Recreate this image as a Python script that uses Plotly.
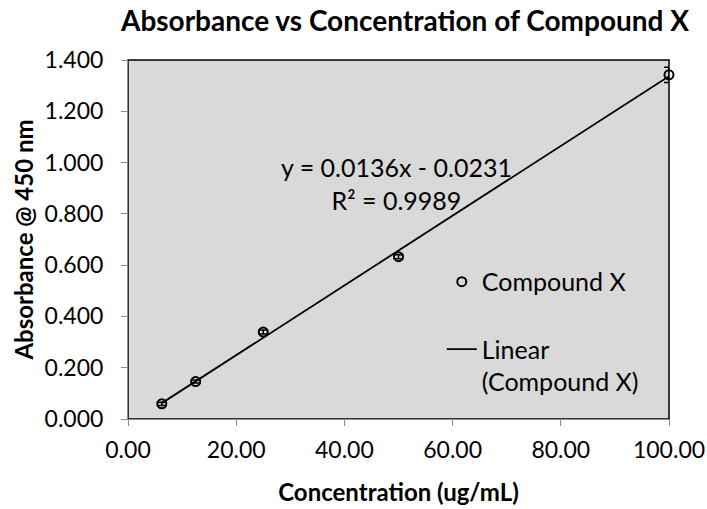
import plotly.graph_objects as go

# Data
concentration = [6.25, 12.5, 25.0, 50.0, 100.0]
absorbance = [0.059, 0.146, 0.339, 0.633, 1.342]
abs_error = [0.006, 0.006, 0.008, 0.008, 0.030]

# Trendline (as reported on the chart)
slope = 0.0136
intercept = -0.0231
trend_x = [6.25, 100.0]
trend_y = [slope * x + intercept for x in trend_x]

x_ticks = [0, 20, 40, 60, 80, 100]
y_ticks = [0.0, 0.2, 0.4, 0.6, 0.8, 1.0, 1.2, 1.4]

FONT = "Lato"

fig = go.Figure()

fig.add_trace(go.Scatter(
    x=concentration, y=absorbance, mode="markers", name="Compound X",
    legendgroup="a", cliponaxis=False,
    marker=dict(symbol="circle-open", size=9, color="black", line=dict(width=2, color="black")),
    error_y=dict(type="data", array=abs_error, visible=True, color="black", thickness=1.5, width=5),
))

fig.add_trace(go.Scatter(
    x=trend_x, y=trend_y, mode="lines", name="Linear<br>(Compound X)",
    legendgroup="b", cliponaxis=False,
    line=dict(color="black", width=1.8),
))

fig.add_shape(type="rect", xref="paper", yref="paper", x0=0, y0=0, x1=1, y1=1,
              line=dict(color="black", width=1.5), layer="below")

fig.add_annotation(
    x=0.497, y=0.655, xref="paper", yref="paper", yanchor="middle", xanchor="center",
    text="y = 0.0136x - 0.0231<br>R² = 0.9989",
    showarrow=False, align="center",
    font=dict(family=FONT, size=25, color="black"),
)

fig.update_layout(
    width=707, height=509,
    margin=dict(l=128, r=38, t=60, b=90, autoexpand=False),
    paper_bgcolor="white",
    plot_bgcolor="#D9D9D9",
    font=dict(family=FONT, size=23, color="black"),
    title=dict(text="<b>Absorbance vs Concentration of Compound X</b>",
               x=405 / 707, xref="container", xanchor="center",
               y=1 - 21 / 509, yref="container", yanchor="middle",
               font=dict(family=FONT, size=28, color="black")),
    showlegend=True,
    legend=dict(x=0.58, y=0.446, xanchor="left", yanchor="top",
                bgcolor="rgba(0,0,0,0)", borderwidth=0,
                tracegroupgap=32, valign="top", traceorder="grouped",
                font=dict(family=FONT, size=25, color="black")),
    xaxis=dict(
        range=[0, 100], tickvals=x_ticks, tickformat=".2f",
        showgrid=False, zeroline=False, automargin=False,
        showline=True, linecolor="#8C8C8C", linewidth=1,
        ticks="outside", ticklen=6, tickcolor="#8C8C8C", ticklabelstandoff=4,
        tickfont=dict(family=FONT, size=23),
        title=dict(text="<b>Concentration (ug/mL)</b>", font=dict(family=FONT, size=24), standoff=22),
    ),
    yaxis=dict(
        range=[0, 1.4], tickvals=y_ticks, tickformat=".3f",
        showgrid=False, zeroline=False, automargin=False,
        showline=True, linecolor="#8C8C8C", linewidth=1,
        ticks="outside", ticklen=6, tickcolor="#8C8C8C", ticklabelstandoff=13,
        tickfont=dict(family=FONT, size=23),
        title=dict(text="<b>Absorbance @ 450 nm</b>", font=dict(family=FONT, size=24), standoff=4),
    ),
)

fig.write_html(
    "out.html",
    config={"displayModeBar": False},
    post_script="document.body.style.margin='0';document.body.style.overflow='hidden';",
)
